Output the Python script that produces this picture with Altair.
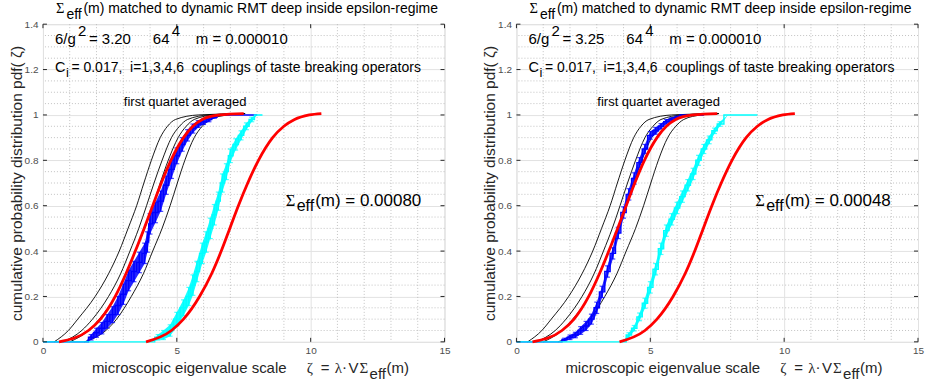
import altair as alt
import pandas as pd

W, H = 402, 318
SANS = "Liberation Sans"
SERIF = "Liberation Serif"
NB = "\u00a0"

# ---------------- data ----------------
Y_LEVELS = [0, 0.05, 0.1, 0.2, 0.3, 0.4, 0.5, 0.6, 0.7, 0.8, 0.9, 0.95, 0.98, 1.0, 1.006]

# thin black RMT curves (x at each Y_LEVELS value)
B1_X = [0.42, 0.95, 1.30, 1.95, 2.45, 2.85, 3.18, 3.50, 3.77, 4.05, 4.38, 4.65, 4.95, 5.80, 7.55]
B2_X = [0.75, 1.45, 1.85, 2.45, 2.90, 3.25, 3.58, 3.87, 4.15, 4.45, 4.80, 5.10, 5.40, 6.20, 7.55]
B3_X = [1.00, 1.70, 2.10, 2.70, 3.10, 3.45, 3.80, 4.10, 4.38, 4.68, 5.05, 5.35, 5.65, 6.40, 7.55]
B4_X = [1.55, 2.35, 2.75, 3.30, 3.75, 4.10, 4.45, 4.75, 5.02, 5.30, 5.65, 5.95, 6.25, 6.90, 7.55]
# thick red curves
R1_X = [0.60, 1.70, 2.15, 2.70, 3.10, 3.45, 3.78, 4.10, 4.42, 4.78, 5.25, 5.60, 5.95, 6.60, 7.50]
R2_X = [3.85, 4.80, 5.25, 5.85, 6.30, 6.66, 6.98, 7.30, 7.65, 8.05, 8.58, 9.00, 9.40, 9.95, 10.40]

# left panel data (6/g^2 = 3.20)
BL_X = [0, 1.6, 1.8, 2.0, 2.2, 2.4, 2.6, 2.8, 3.0, 3.2, 3.4, 3.6, 3.8, 3.9, 4.0, 4.2, 4.4, 4.6, 4.8, 5.0, 5.2, 5.4, 5.6, 5.8, 6.0, 6.2, 6.4, 6.6, 8.0]
BL_Y = [0, 0.0, 0.02, 0.04, 0.06, 0.09, 0.12, 0.16, 0.21, 0.27, 0.31, 0.35, 0.39, 0.44, 0.52, 0.57, 0.62, 0.69, 0.76, 0.82, 0.87, 0.91, 0.94, 0.96, 0.97, 0.98, 0.99, 1.0, 1.0]
BL_E = [0, 0, 0.012, 0.02, 0.025, 0.03, 0.035, 0.04, 0.045, 0.045, 0.045, 0.045, 0.045, 0.045, 0.045, 0.045, 0.045, 0.04, 0.04, 0.035, 0.03, 0.025, 0.02, 0.015, 0.012, 0.01, 0.005, 0, 0]
CL_X = [0, 4.05, 4.3, 4.5, 4.75, 5.0, 5.25, 5.45, 5.6, 5.75, 5.95, 6.1, 6.25, 6.4, 6.55, 6.7, 6.85, 7.0, 7.2, 7.4, 7.6, 7.8, 8.0, 8.2]
CL_Y = [0, 0.0, 0.02, 0.03, 0.05, 0.1, 0.15, 0.2, 0.25, 0.31, 0.39, 0.44, 0.5, 0.56, 0.62, 0.7, 0.75, 0.82, 0.87, 0.91, 0.95, 0.98, 1.0, 1.0]
CL_E = [0, 0, 0.012, 0.02, 0.025, 0.03, 0.035, 0.04, 0.045, 0.045, 0.045, 0.045, 0.045, 0.045, 0.04, 0.04, 0.035, 0.03, 0.025, 0.02, 0.015, 0.01, 0, 0]

# right panel data (6/g^2 = 3.25)
BR_X = [0, 1.6, 1.8, 2.0, 2.2, 2.4, 2.6, 2.8, 3.0, 3.2, 3.4, 3.6, 3.8, 4.0, 4.2, 4.4, 4.6, 4.8, 5.0, 5.2, 5.4, 5.6, 5.8, 6.0, 6.2, 7.0]
BR_Y = [0, 0.0, 0.01, 0.02, 0.03, 0.05, 0.07, 0.1, 0.15, 0.22, 0.31, 0.39, 0.48, 0.57, 0.65, 0.72, 0.79, 0.85, 0.91, 0.93, 0.95, 0.97, 0.98, 0.99, 1.0, 1.0]
BR_E = [0, 0, 0.006, 0.01, 0.012, 0.017, 0.02, 0.022, 0.025, 0.025, 0.025, 0.025, 0.025, 0.025, 0.025, 0.025, 0.022, 0.02, 0.017, 0.015, 0.012, 0.01, 0.008, 0.005, 0, 0]
CR_X = [0, 4.0, 4.2, 4.4, 4.6, 4.8, 5.0, 5.2, 5.4, 5.6, 5.8, 6.0, 6.2, 6.4, 6.6, 6.8, 7.0, 7.2, 7.4, 7.6, 7.9, 9.0]
CR_Y = [0, 0.0, 0.03, 0.06, 0.11, 0.17, 0.24, 0.32, 0.41, 0.49, 0.54, 0.59, 0.64, 0.69, 0.74, 0.8, 0.85, 0.89, 0.93, 0.96, 1.0, 1.0]
CR_E = [0, 0, 0.01, 0.012, 0.017, 0.022, 0.025, 0.025, 0.025, 0.025, 0.025, 0.025, 0.025, 0.025, 0.025, 0.022, 0.02, 0.017, 0.012, 0.01, 0, 0]

BETAS = ["3.20", "3.25"]
SIGMAS = ["0.00080", "0.00048"]

X_MAJOR = [0, 5, 10, 15]
Y_MAJOR = [0, 0.2, 0.4, 0.6, 0.8, 1.0, 1.2, 1.4]
X_MINOR = [1, 2, 3, 4, 6, 7, 8, 9, 11, 12, 13, 14]
Y_MINOR = [0.05, 0.1, 0.15, 0.25, 0.3, 0.35, 0.45, 0.5, 0.55, 0.65, 0.7, 0.75,
           0.85, 0.9, 0.95, 1.05, 1.1, 1.15, 1.25, 1.3, 1.35]

# ---------------- encodings ----------------
xs = alt.Scale(domain=[0, 15], nice=False, zero=False)
ys = alt.Scale(domain=[0, 1.4], nice=False, zero=False)
x_axis = alt.Axis(values=X_MAJOR, title=None, grid=True, gridColor="#e2e2e2", gridWidth=1,
                  ticks=False, domain=False, labelFontSize=10, labelColor="#4d4d4d",
                  labelFont=SANS, labelPadding=4, labelFlush=False, labelOverlap=False)
y_axis = alt.Axis(values=Y_MAJOR, format="~g",
                  title="cumulative probability distribution pdf(" + NB + "ζ)",
                  grid=True, gridColor="#e2e2e2", gridWidth=1, ticks=False, domain=False,
                  labelFontSize=10, labelColor="#4d4d4d", labelFont=SANS, labelPadding=5,
                  labelFlush=False, labelOverlap=False, titleFont=SANS, titleFontSize=15.5,
                  titleFontWeight="normal", titleColor="#262626", titlePadding=0)


def X(f="x"):
    return alt.X(f"{f}:Q", scale=xs, axis=x_axis)


def Y(f="y"):
    return alt.Y(f"{f}:Q", scale=ys, axis=y_axis)


def txt(text, x, y, size=15, font=SANS, color="#000000"):
    return alt.Chart(pd.DataFrame({"t": [text]})).mark_text(
        align="left", baseline="alphabetic", fontSize=size, font=font, color=color
    ).encode(x=alt.value(x), y=alt.value(y), text="t:N")


def curves_df(xlists, names):
    rows = []
    for name, xl in zip(names, xlists):
        for xv, yv in zip(xl, Y_LEVELS):
            rows.append({"curve": name, "x": xv, "y": yv})
    return pd.DataFrame(rows)


def data_layers(xv, yv, ev, color, op):
    df = pd.DataFrame({"x": xv, "y": yv, "e": ev})
    df["lo"] = df["y"] - df["e"]
    df["hi"] = df["y"] + df["e"]
    bars = df[df["e"] > 0]
    band = alt.Chart(df).mark_area(color=color, opacity=op, interpolate="linear").encode(
        x=X(), y=Y("lo"), y2="hi")
    rules = alt.Chart(bars).mark_rule(color=color, strokeWidth=1.5).encode(
        x=X(), y=Y("lo"), y2="hi")
    caps_lo = alt.Chart(bars).mark_tick(color=color, orient="horizontal", size=5, thickness=1.2).encode(
        x=X(), y=Y("lo"))
    caps_hi = alt.Chart(bars).mark_tick(color=color, orient="horizontal", size=5, thickness=1.2).encode(
        x=X(), y=Y("hi"))
    line = alt.Chart(df).mark_line(color=color, strokeWidth=1.4, interpolate="step").encode(
        x=X(), y=Y())
    return [band, rules, caps_lo, caps_hi, line]


def panel(i, blue, cyan, anchor, sig_x):
    layers = []
    if anchor:
        layers.append(alt.Chart(pd.DataFrame({"a": [0]})).mark_rect(opacity=0).encode(
            x=alt.value(-42), x2=alt.value(-41), y=alt.value(-22), y2=alt.value(-21)))
    layers.append(alt.Chart(pd.DataFrame({"v": X_MINOR})).mark_rule(
        color="#b4b4b4", strokeDash=[1, 2], strokeWidth=0.8).encode(x=X("v")))
    layers.append(alt.Chart(pd.DataFrame({"v": Y_MINOR})).mark_rule(
        color="#b4b4b4", strokeDash=[1, 2], strokeWidth=0.8).encode(y=Y("v")))
    layers.append(alt.Chart(curves_df([B1_X, B2_X, B3_X, B4_X], ["b1", "b2", "b3", "b4"])).mark_line(
        color="black", strokeWidth=0.9, interpolate="monotone").encode(x=X(), y=Y(), detail="curve:N"))
    layers += data_layers(*blue, "#0000ff", 0.85)
    layers += data_layers(*cyan, "#00ffff", 0.9)
    layers.append(alt.Chart(curves_df([R1_X, R2_X], ["r1", "r2"])).mark_line(
        color="#ff0000", strokeWidth=2.8, interpolate="monotone").encode(x=X(), y=Y(), detail="curve:N"))
    # inside ticks
    layers.append(alt.Chart(pd.DataFrame({"v": X_MAJOR})).mark_rule(color="#262626").encode(
        x=X("v"), y=alt.value(H), y2=alt.value(H - 4)))
    layers.append(alt.Chart(pd.DataFrame({"v": X_MAJOR})).mark_rule(color="#262626").encode(
        x=X("v"), y=alt.value(0), y2=alt.value(4)))
    layers.append(alt.Chart(pd.DataFrame({"v": Y_MAJOR})).mark_rule(color="#262626").encode(
        y=Y("v"), x=alt.value(0), x2=alt.value(4)))
    layers.append(alt.Chart(pd.DataFrame({"v": Y_MAJOR})).mark_rule(color="#262626").encode(
        y=Y("v"), x=alt.value(W), x2=alt.value(W - 4)))
    # title
    layers += [
        txt("Σ", 13, -11, 14.5, SERIF),
        txt("eff", 23.5, -5, 14),
        txt("(m) matched to dynamic RMT deep inside epsilon-regime", 40.5, -11, 14),
    ]
    # info lines
    layers += [
        txt("6/g", 12, 20, 15),
        txt("2", 35, 12, 15),
        txt("= " + BETAS[i], 46, 20, 15),
        txt("64", 110, 20, 15),
        txt("4", 129, 12, 15),
        txt("m = 0.000010", 153, 20, 15),
        txt("C", 12, 48, 14.5),
        txt("i", 23, 53, 13),
        txt("= 0.017," + NB + " i=1,3,4,6" + NB + " couplings of taste breaking operators", 28.5, 48, 14),
        txt("first quartet averaged", 81, 82, 13),
        txt("Σ", sig_x, 182, 16.5, SERIF),
        txt("eff", sig_x + 11, 187, 16),
        txt("(m) = " + SIGMAS[i], sig_x + 29.5, 182, 17),
    ]
    # x axis title
    layers += [
        txt("microscopic eigenvalue scale", 49, 349, 15, color="#262626"),
        txt("ζ", 264, 349, 15, SERIF, "#262626"),
        txt("=", 278, 349, 15, SANS, "#262626"),
        txt("λ·", 292, 349, 15, SERIF, "#262626"),
        txt("V", 306, 349, 15, SANS, "#262626"),
        txt("Σ", 317, 349, 15, SERIF, "#262626"),
        txt("eff", 327, 355, 15, SANS, "#262626"),
        txt("(m)", 344, 349, 15, SANS, "#262626"),
    ]
    return alt.layer(*layers).properties(width=W, height=H)


left = panel(0, (BL_X, BL_Y, BL_E), (CL_X, CL_Y, CL_E), True, 243)
right = panel(1, (BR_X, BR_Y, BR_E), (CR_X, CR_Y, CR_E), False, 239)

chart = alt.hconcat(left, right, spacing=72, bounds="flush").properties(
    padding={"left": 0, "top": 0, "right": 0, "bottom": 0}
).configure_view(stroke="#262626", strokeWidth=1).configure(background="white")

chart.save("out.html", embed_options={"renderer": "svg", "actions": False})
